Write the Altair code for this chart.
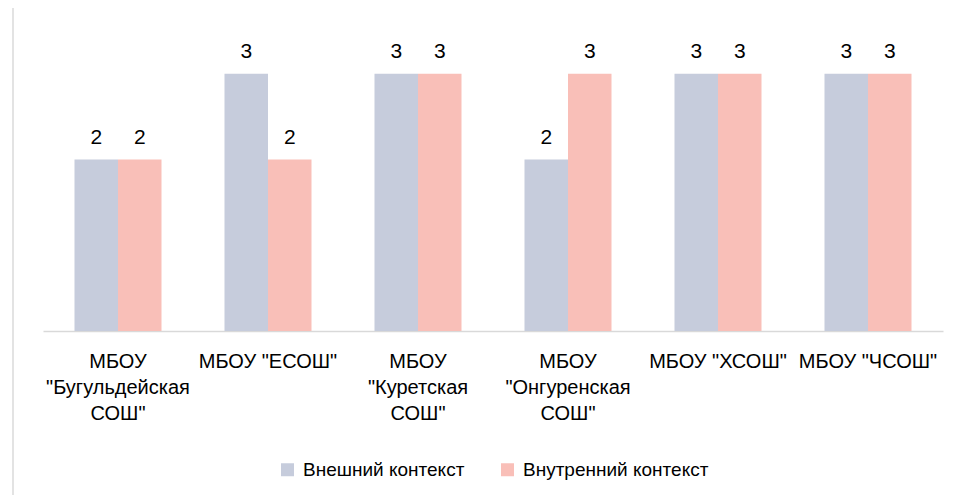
import altair as alt
import pandas as pd

categories = [
    'МБОУ|"Бугульдейская|СОШ"',
    'МБОУ "ЕСОШ"',
    'МБОУ|"Куретская|СОШ"',
    'МБОУ|"Онгуренская|СОШ"',
    'МБОУ "ХСОШ"',
    'МБОУ "ЧСОШ"',
]
series = ["Внешний контекст", "Внутренний контекст"]
external = [2, 3, 3, 2, 3, 3]
internal = [2, 2, 3, 3, 3, 3]
colors = ["#C6CCDC", "#F9BFB8"]

rows = []
for c, e, i in zip(categories, external, internal):
    rows.append({"school": c, "series": series[0], "value": e})
    rows.append({"school": c, "series": series[1], "value": i})
df = pd.DataFrame(rows)

FONT = "Liberation Sans"

x = alt.X(
    "school:N",
    sort=categories,
    scale=alt.Scale(paddingInner=0.42, paddingOuter=0.21),
    axis=alt.Axis(
        title=None,
        labelAngle=0,
        labelExpr="split(datum.value, '|')",
        labelFont=FONT,
        labelFontSize=20,
        labelColor="#000000",
        labelLineHeight=26,
        labelPadding=20,
        labelBaseline="top",
        ticks=False,
        domainColor="#D9D9D9",
        domainWidth=1.5,
        labelLimit=300,
    ),
)
xo = alt.XOffset("series:N", sort=series, scale=alt.Scale(paddingInner=0, paddingOuter=0))
y = alt.Y("value:Q", scale=alt.Scale(domain=[0, 3.5], nice=False), axis=None)

base = alt.Chart(df).encode(x=x, xOffset=xo, y=y)

bars = base.mark_bar().encode(
    color=alt.Color(
        "series:N",
        sort=series,
        scale=alt.Scale(domain=series, range=colors),
        legend=alt.Legend(
            title=None,
            orient="none",
            direction="horizontal",
            legendX=235,
            legendY=429,
            symbolType="square",
            symbolSize=169,
            symbolStrokeWidth=0,
            labelFont=FONT,
            labelFontSize=19,
            labelColor="#000000",
            columnPadding=33,
            labelOffset=6,
            labelLimit=400,
        ),
    )
)

labels = base.mark_text(
    baseline="bottom", dy=-12, font=FONT, fontSize=21, color="#000000"
).encode(text="value:Q")

edge = alt.Chart(pd.DataFrame({"a": [0]})).mark_rule(color="#E3E3E3", strokeWidth=2).encode(
    x=alt.value(-30), y=alt.value(-23), y2=alt.value(464)
)

chart = (
    alt.layer(edge, bars, labels)
    .properties(
        width=900,
        height=300,
        background="#FFFFFF",
        autosize=alt.AutoSizeParams(type="none"),
        padding={"left": 35, "top": 23, "right": 17, "bottom": 164},
    )
    .configure_view(strokeWidth=0, stroke="transparent")
)

chart.save("out.html", embed_options={"renderer": "svg", "actions": False})
